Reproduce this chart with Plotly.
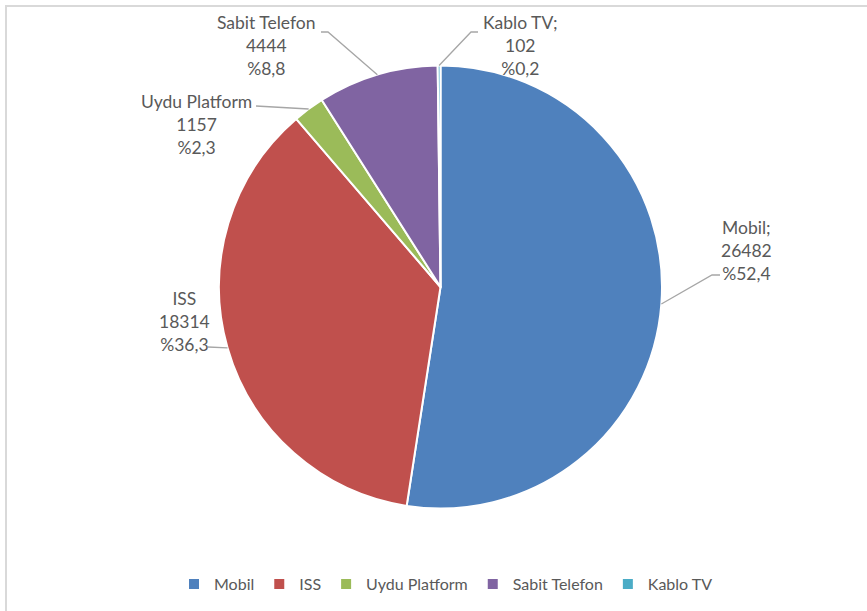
import math
import plotly.graph_objects as go

# ---- data ----
categories = ["Mobil", "ISS", "Uydu Platform", "Sabit Telefon", "Kablo TV"]
values = [26482, 18314, 1157, 4444, 102]
label_titles = ["Mobil;", "ISS", "Uydu Platform", "Sabit Telefon", "Kablo TV;"]

# ---- style ----
colors = ["#4F81BD", "#C0504D", "#9BBB59", "#8064A2", "#4BACC6"]
W, H = 867, 611          # browser window / figure size
CX, CY, R = 440.5, 287.0, 221.5          # pie geometry in px
TEXT_COLOR = "#595959"
FONT = "Lato"
FS = 17.5
LEG_FS = 16
# label block centers (px) and leader-line elbow/end points (px)
label_pos = [(746, 250), (184, 321), (196, 124), (266, 45.5), (520, 45.5)]
leader_pts = [
    [(712, 275), (720, 275)],
    [(208, 347)],
    [(256, 106)],
    [(328, 32), (321, 32)],
    [(471, 32), (478, 32)],
]


def px(x, y):
    return x / W, 1 - y / H


total = sum(values)
pct_text = ["%" + f"{v / total * 100:.1f}".replace(".", ",") for v in values]

fig = go.Figure()
x0, y1 = px(CX - R, CY - R)
x1, y0 = px(CX + R, CY + R)
fig.add_trace(go.Pie(
    labels=categories,
    values=values,
    sort=False,
    direction="clockwise",
    rotation=0,
    textinfo="none",
    marker=dict(colors=colors, line=dict(color="white", width=2)),
    domain=dict(x=[x0, x1], y=[y0, y1]),
    hoverinfo="label+value+percent",
))

shapes = []
annotations = []
cum = 0.0
for i, v in enumerate(values):
    mid = (cum + v / 2) / total
    cum += v
    ang = 2 * math.pi * mid
    ex = CX + R * math.sin(ang)
    ey = CY - R * math.cos(ang)
    pts = [(ex, ey)] + leader_pts[i]
    path = "M " + " L ".join(f"{px(a, b)[0]:.5f},{px(a, b)[1]:.5f}" for a, b in pts)
    shapes.append(dict(type="path", path=path, xref="paper", yref="paper",
                       line=dict(color="#A6A6A6", width=1.3)))
    lx, ly = px(*label_pos[i])
    annotations.append(dict(
        x=lx, y=ly, xref="paper", yref="paper", xanchor="center", yanchor="middle",
        text=f"{label_titles[i]}<br>{values[i]}<br>{pct_text[i]}",
        showarrow=False, align="center",
        font=dict(family=FONT, size=FS, color=TEXT_COLOR),
    ))

# chart-area border (partially visible, top & left)
bx0, by1 = px(6, 6)
shapes.append(dict(type="rect", xref="paper", yref="paper",
                   x0=bx0, y0=-0.05, x1=1.05, y1=by1,
                   line=dict(color="#D9D9D9", width=2), layer="below"))

lgx, lgy = px(446, 584)
fig.update_layout(
    width=W, height=H,
    margin=dict(l=0, r=0, t=0, b=0),
    paper_bgcolor="white", plot_bgcolor="white",
    shapes=shapes, annotations=annotations,
    showlegend=True,
    legend=dict(orientation="h", x=lgx, xanchor="center", y=lgy, yanchor="middle",
                font=dict(family=FONT, size=LEG_FS, color=TEXT_COLOR),
                itemwidth=30, traceorder="normal"),
)

fig.write_html("out.html",
               config={"displayModeBar": False},
               post_script="document.body.style.margin='0';document.body.style.overflow='hidden';")
